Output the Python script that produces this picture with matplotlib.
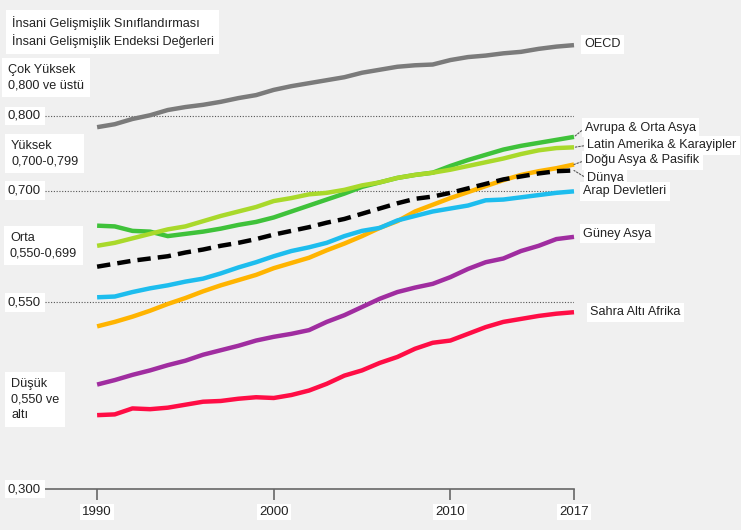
import matplotlib
matplotlib.use("Agg")
import matplotlib.pyplot as plt
import matplotlib.transforms as mtransforms

plt.rcParams['font.family'] = ['Liberation Sans', 'DejaVu Sans']

## İnsani Gelişme Endeksi, bölgelere göre (1990-2017)
years = list(range(1990, 2018))

oecd = [0.785, 0.789, 0.796, 0.801, 0.808, 0.812, 0.815, 0.819, 0.824, 0.828,
        0.835, 0.840, 0.844, 0.848, 0.852, 0.858, 0.862, 0.866, 0.868, 0.869,
        0.875, 0.879, 0.881, 0.884, 0.886, 0.890, 0.893, 0.895]
europe = [0.653, 0.652, 0.646, 0.645, 0.639, 0.642, 0.645, 0.649, 0.654, 0.658,
          0.664, 0.672, 0.680, 0.688, 0.696, 0.705, 0.711, 0.717, 0.721, 0.724,
          0.733, 0.741, 0.748, 0.755, 0.760, 0.764, 0.768, 0.772]
latin = [0.626, 0.630, 0.636, 0.642, 0.648, 0.652, 0.659, 0.666, 0.672, 0.678,
         0.686, 0.690, 0.695, 0.697, 0.701, 0.707, 0.711, 0.717, 0.721, 0.724,
         0.728, 0.733, 0.738, 0.743, 0.749, 0.754, 0.757, 0.758]
world = [0.598, 0.602, 0.606, 0.609, 0.612, 0.617, 0.621, 0.626, 0.630, 0.635,
         0.641, 0.646, 0.651, 0.657, 0.662, 0.669, 0.676, 0.683, 0.689, 0.692,
         0.697, 0.703, 0.709, 0.715, 0.719, 0.723, 0.726, 0.727]
arab = [0.557, 0.558, 0.564, 0.569, 0.573, 0.578, 0.582, 0.589, 0.597, 0.604,
        0.612, 0.619, 0.624, 0.630, 0.639, 0.646, 0.650, 0.660, 0.666, 0.672,
        0.676, 0.680, 0.687, 0.688, 0.691, 0.694, 0.697, 0.699]
east = [0.518, 0.524, 0.531, 0.539, 0.548, 0.556, 0.565, 0.573, 0.580, 0.587,
        0.596, 0.603, 0.610, 0.620, 0.629, 0.639, 0.650, 0.659, 0.672, 0.681,
        0.690, 0.698, 0.706, 0.714, 0.721, 0.726, 0.730, 0.735]
south = [0.440, 0.446, 0.453, 0.459, 0.466, 0.472, 0.480, 0.486, 0.492, 0.499,
         0.504, 0.508, 0.513, 0.524, 0.533, 0.544, 0.555, 0.564, 0.570, 0.575,
         0.584, 0.595, 0.604, 0.609, 0.619, 0.626, 0.635, 0.638]
ssa = [0.399, 0.400, 0.408, 0.407, 0.409, 0.413, 0.417, 0.418, 0.421, 0.423,
       0.422, 0.426, 0.432, 0.441, 0.452, 0.459, 0.469, 0.477, 0.488, 0.496,
       0.499, 0.508, 0.517, 0.524, 0.528, 0.532, 0.535, 0.537]

names = ["OECD", "Avrupa & Orta Asya", "Latin Amerika & Karayipler",
         "Doğu Asya & Pasifik", "Dünya", "Arap Devletleri", "Güney Asya",
         "Sahra Altı Afrika"]
series = [oecd, europe, latin, east, world, arab, south, ssa]
colors = ["#7b7b7b", "#3fc23a", "#a9d92b", "#ffb400", "#000000", "#1dbdee",
          "#a02da0", "#ff0d45"]
# label offsets from the line end, in pixels
offsets = [(10, 1), (11, 9), (13, 2), (11, 4), (13, -8), (9, 0), (9, 3), (16, 0)]
leaders = [False, True, True, True, True, False, False, False]

grid_vals = [0.800, 0.700, 0.550]
grid_labels = ["0,800", "0,700", "0,550"]
xticks = [1990, 2000, 2010, 2017]

W, H = 741, 530
bg = "#f0f0f0"
txt = "#222222"
fs = 9.1
box = dict(facecolor="white", edgecolor="none", pad=2.5)

fig = plt.figure(figsize=(W / 100, H / 100), dpi=100, facecolor=bg)
ax = fig.add_axes([45 / W, 41 / H, (574 - 45) / W, 447.6 / H])
ax.set_facecolor(bg)
ax.set_xlim(1987.05, 2017)
ax.set_ylim(0.3, 0.9)

for s in ["top", "right", "left"]:
    ax.spines[s].set_visible(False)
ax.spines["bottom"].set_color("#666666")
ax.spines["bottom"].set_linewidth(1.2)
ax.set_yticks([])
ax.set_xticks(xticks)
ax.set_xticklabels([str(t) for t in xticks])
ax.tick_params(axis="x", direction="out", length=8, width=1.2, color="#666666",
               labelsize=9.5, labelcolor=txt, pad=4)
for lab in ax.get_xticklabels():
    lab.set_bbox(dict(facecolor="white", edgecolor="none", pad=1.5))

for v in grid_vals:
    ax.axhline(v, color="#555555", lw=0.8, ls=(0, (1, 1.5)), zorder=1)

# lines
for name, vals, c, off, lead in zip(names, series, colors, offsets, leaders):
    ls = (0, (3, 1.6)) if name == "Dünya" else "-"
    ax.plot(years, vals, color=c, lw=3.2, ls=ls, solid_capstyle="butt",
            clip_on=False, zorder=3)
    ap = None
    if lead:
        ap = dict(arrowstyle="-", ls=(0, (1.5, 1.5)), color="#555555", lw=0.8,
                  shrinkA=0, shrinkB=0, relpos=(0, 0.5))
    ax.annotate(name, xy=(years[-1], vals[-1]), xytext=off,
                textcoords="offset pixels", ha="left", va="center",
                fontsize=fs, color=txt, bbox=box, arrowprops=ap,
                annotation_clip=False, zorder=5)

# value labels on the left
blend = mtransforms.blended_transform_factory(fig.transFigure, ax.transData)
for v, lab in zip(grid_vals + [0.3], grid_labels + ["0,300"]):
    ax.text(8 / W, v, lab, transform=blend, ha="left", va="center",
            fontsize=9.5, color=txt, bbox=box, zorder=5)

# class labels
def ftext(x, y, s):
    fig.text(x / W, 1 - y / H, s, ha="left", va="top", fontsize=fs,
             color=txt, linespacing=1.4,
             bbox=dict(facecolor="white", edgecolor="none", pad=4))

ftext(12, 16, "İnsani Gelişmişlik Sınıflandırması\nİnsani Gelişmişlik Endeksi Değerleri")
ftext(8, 64, "Çok Yüksek\n0,800 ve üstü")
ftext(11, 140, "Yüksek\n0,700-0,799")
ftext(10, 232, "Orta\n0,550-0,699")
ftext(11, 378, "Düşük\n0,550 ve\naltı")

fig.savefig("out.png", dpi=100, facecolor=bg)
